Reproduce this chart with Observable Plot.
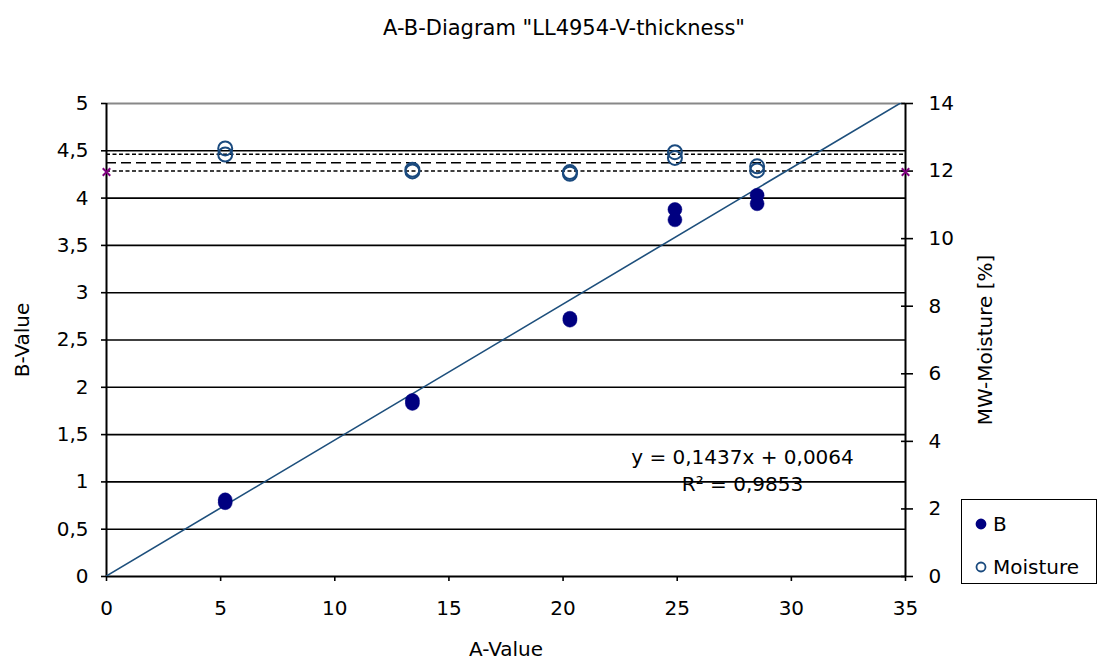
<!DOCTYPE html>
<html>
<head>
<meta charset="utf-8">
<script src="https://cdn.jsdelivr.net/npm/d3@7"></script>
<script src="https://cdn.jsdelivr.net/npm/@observablehq/plot@0.6"></script>
<style>
  body { margin: 0; background: #fff; font-family: "DejaVu Sans", sans-serif; }
  #wrap { position: relative; width: 1103px; height: 670px; }
  #legend { position: absolute; left: 961px; top: 499px; width: 134px; height: 83px; border: 1px solid #000; background: #fff; font-size: 20px; }
  .li { position: absolute; left: 13px; display: flex; align-items: center; }
  .li svg { margin-right: 6px; }
</style>
</head>
<body>
<div id="wrap">
  <div id="chart"></div>
  <div id="legend"></div>
</div>
<script>
// ---- data ----
const aValues      = [5.2, 5.2, 13.4, 13.4, 20.3, 20.3, 24.9, 24.9, 28.5, 28.5];
const bValues      = [0.81, 0.78, 1.86, 1.83, 2.73, 2.71, 3.88, 3.77, 4.03, 3.94];
const moistureVals = [12.67, 12.49, 12.04, 11.99, 11.97, 11.92, 12.56, 12.39, 12.14, 12.02];
const limitLower = 12.0, limitUpper = 12.5, limitMid = 12.25;   // moisture limit lines [%]
const markerX = [0, 35];                                         // end markers of the lower limit
const trendSlope = 0.1437, trendIntercept = 0.0064;
const trendX = [0, 35];
const xTicks = [0, 5, 10, 15, 20, 25, 30, 35];
const yTicks = [0, 0.5, 1, 1.5, 2, 2.5, 3, 3.5, 4, 4.5, 5];
const moistTicks = [0, 2, 4, 6, 8, 10, 12, 14];
const titleText = 'A-B-Diagram "LL4954-V-thickness"';
const xLabel = "A-Value", yLabel = "B-Value", y2Label = "MW-Moisture [%]";
const eqText = "y = 0,1437x + 0,0064", r2Text = "R² = 0,9853";

// ---- derived tables ----
const M2B = 5 / 14; // secondary axis mapping (moisture 0..14 onto B 0..5)
const pts = aValues.map((a, i) => ({a, b: bValues[i], m: moistureVals[i]}));
const trend = trendX.map(x => ({x, y: trendSlope * x + trendIntercept}));
const comma = d => String(d).replace(".", ",");
const FONT = "DejaVu Sans";
const navy = "#000080", moistColor = "#1a4a7e", trendColor = "#1d4f7c";

const chart = Plot.plot({
  width: 1103, height: 670,
  marginLeft: 106, marginRight: 198, marginTop: 103, marginBottom: 94,
  style: {fontFamily: FONT, fontSize: "20px", background: "#fff", overflow: "visible"},
  x: {domain: [0, 35]},
  y: {domain: [0, 5]},
  marks: [
    // horizontal gridlines
    Plot.ruleY(yTicks.filter(d => d > 0 && d < 5), {stroke: "#000", strokeWidth: 1.6}),
    Plot.ruleY([5], {stroke: "#888", strokeWidth: 2}),
    // limit lines (on moisture axis)
    Plot.ruleY([limitUpper, limitLower], {y: d => d * M2B, stroke: "#000", strokeWidth: 1.5, strokeDasharray: "4,2.5"}),
    Plot.ruleY([limitMid], {y: d => d * M2B, stroke: "#000", strokeWidth: 1.5, strokeDasharray: "10,5"}),
    // axes lines
    Plot.ruleX([0, 35], {stroke: "#000", strokeWidth: 2}),
    Plot.ruleY([0], {stroke: "#000", strokeWidth: 2}),
    // axes ticks/labels
    Plot.axisX({ticks: xTicks, tickSize: 5, tickPadding: 19, label: null, tickFormat: d => d, strokeWidth: 1.6, fontSize: 20}),
    Plot.axisY({anchor: "left", ticks: yTicks, tickSize: 5, tickPadding: 13, label: null, tickFormat: comma, strokeWidth: 1.6, fontSize: 20}),
    Plot.axisY({anchor: "right", ticks: moistTicks.map(d => d * M2B), tickSize: 12, dx: -5, label: null, tickFormat: () => "", strokeWidth: 1.6}),
    Plot.axisY({anchor: "right", ticks: moistTicks.map(d => d * M2B), tickSize: 0, tickPadding: 23, label: null, tickFormat: d => Math.round(d / M2B), fontSize: 20}),
    // trendline
    Plot.line(trend, {x: "x", y: "y", stroke: trendColor, strokeWidth: 1.6, clip: true}),
    // series
    Plot.dot(pts, {x: "a", y: "b", r: 7, fill: navy, stroke: navy, strokeWidth: 0.5}),
    Plot.dot(pts, {x: "a", y: d => d.m * M2B, r: 7, fill: "none", stroke: moistColor, strokeWidth: 2}),
    // limit markers
    Plot.dot(markerX, {x: d => d, y: () => limitLower * M2B - 0.01, symbol: "times", r: 3.5, stroke: "#800080", strokeWidth: 2}),
    // texts
    Plot.text([eqText], {frameAnchor: "bottom-right", textAnchor: "middle", dx: -163, dy: -113, text: d => d, fontSize: 20, fill: "#000"}),
    Plot.text([r2Text], {frameAnchor: "bottom-right", textAnchor: "middle", dx: -163, dy: -86, text: d => d, fontSize: 20, fill: "#000"}),
    Plot.text([titleText], {frameAnchor: "top", textAnchor: "middle", dx: 58, dy: -83, text: d => d, fontSize: 21, fill: "#000"}),
    Plot.text([xLabel], {frameAnchor: "bottom", textAnchor: "middle", dy: 79, text: d => d, fontSize: 20, fill: "#000"}),
    Plot.text([yLabel], {frameAnchor: "left", textAnchor: "middle", dx: -84, rotate: -90, text: d => d, fontSize: 20, fill: "#000"}),
    Plot.text([y2Label], {frameAnchor: "right", textAnchor: "middle", dx: 80, rotate: -90, text: d => d, fontSize: 20, fill: "#000"})
  ]
});
document.getElementById("chart").appendChild(chart);

// legend
const legend = document.getElementById("legend");
const items = [
  {label: "B", fill: navy, stroke: navy, top: 12},
  {label: "Moisture", fill: "#fff", stroke: moistColor, top: 55}
];
for (const it of items) {
  const div = document.createElement("div");
  div.className = "li";
  div.style.top = it.top + "px";
  div.innerHTML = `<svg width="12" height="12"><circle cx="6" cy="6" r="4.5" fill="${it.fill}" stroke="${it.stroke}" stroke-width="1.8"/></svg><span>${it.label}</span>`;
  legend.appendChild(div);
}
</script>
</body>
</html>
